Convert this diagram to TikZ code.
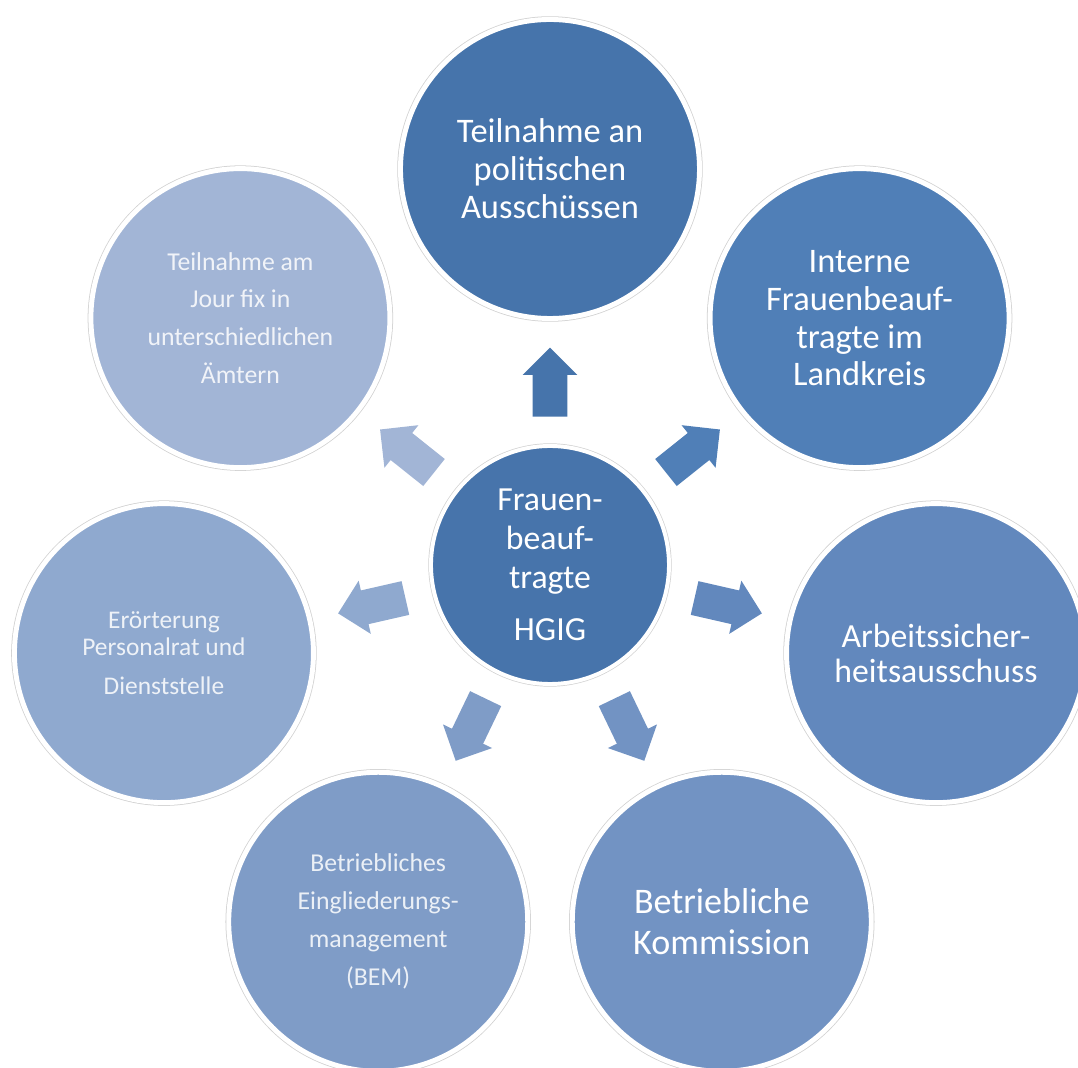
\documentclass[tikz,border=0pt]{standalone}
\usepackage{fontspec}
\setmainfont{Carlito}
\usetikzlibrary{shapes.arrows}

\definecolor{hubblue}{HTML}{4774AB}
\definecolor{blueA}{HTML}{4674AB}
\definecolor{blueB}{HTML}{507FB7}
\definecolor{blueC}{HTML}{6288BD}
\definecolor{blueD}{HTML}{7293C3}
\definecolor{blueE}{HTML}{7F9CC7}
\definecolor{blueF}{HTML}{8FA9CF}
\definecolor{blueG}{HTML}{A2B5D6}

\begin{document}
\begin{tikzpicture}[
  hub/.style={circle, draw=white, line width=2.8pt, fill=hubblue, text=white, align=center, minimum size=5.95cm, preaction={draw=black!18, line width=3.8pt}},
  topic/.style={circle, draw=white, line width=3.5pt, text=white, align=center, minimum size=7.475cm, preaction={draw=black!18, line width=4.6pt}},
  big/.style={font=\fontsize{24.5}{27}\selectfont},
  small/.style={font=\fontsize{18.3}{27}\selectfont, text opacity=0.85},
  blockarrow/.style={single arrow, draw=none, sloped, allow upside down, anchor=tail, pos=0.22, inner xsep=0pt, inner ysep=0.425cm, single arrow head extend=0.25cm, minimum height=1.725cm}
]
    \useasboundingbox (-13.75,-12.575) rectangle (13.2,14.125);

    \node [hub, font=\fontsize{24}{27.7}\selectfont] (hub) at (0,0) {Frauen-\\beauf-\\tragte\\[9pt]HGIG};
    \node [topic, big, fill=blueA] (politik) at (90:9.9cm) {Teilnahme an\\politischen\\Ausschüssen};
    \node [topic, big, fill=blueB] (intern) at (38.57:9.9cm) {Interne\\Frauenbeauf-\\tragte im\\Landkreis};
    \node [topic, fill=blueC, font=\fontsize{24}{25}\selectfont] (arbeit) at (-12.86:9.9cm) {Arbeitssicher-\\heitsausschuss};
    \node [topic, fill=blueD, font=\fontsize{25.6}{29}\selectfont] (kommission) at (-64.29:9.9cm) {Betriebliche\\Kommission};
    \node [topic, small, fill=blueE] (bem) at (-115.71:9.9cm) {Betriebliches\\Eingliederungs-\\management\\(BEM)};
    \node [topic, small, fill=blueF, font=\fontsize{18.1}{19.2}\selectfont] (personalrat) at (-167.14:9.9cm) {Erörterung\\Personalrat und\\[9pt]Dienststelle};
    \node [topic, small, fill=blueG] (jourfix) at (141.43:9.9cm) {Teilnahme am\\Jour fix in\\unterschiedlichen\\Ämtern};

    \path (hub) -- node [blockarrow, fill=blueA] (toPolitik) {} (politik);
    \path (hub) -- node [blockarrow, fill=blueB] (toIntern) {} (intern);
    \path (hub) -- node [blockarrow, fill=blueC] (toArbeit) {} (arbeit);
    \path (hub) -- node [blockarrow, fill=blueD] (toKommission) {} (kommission);
    \path (hub) -- node [blockarrow, fill=blueE] (toBem) {} (bem);
    \path (hub) -- node [blockarrow, fill=blueF] (toPersonalrat) {} (personalrat);
    \path (hub) -- node [blockarrow, fill=blueG] (toJourfix) {} (jourfix);
\end{tikzpicture}
\end{document}
